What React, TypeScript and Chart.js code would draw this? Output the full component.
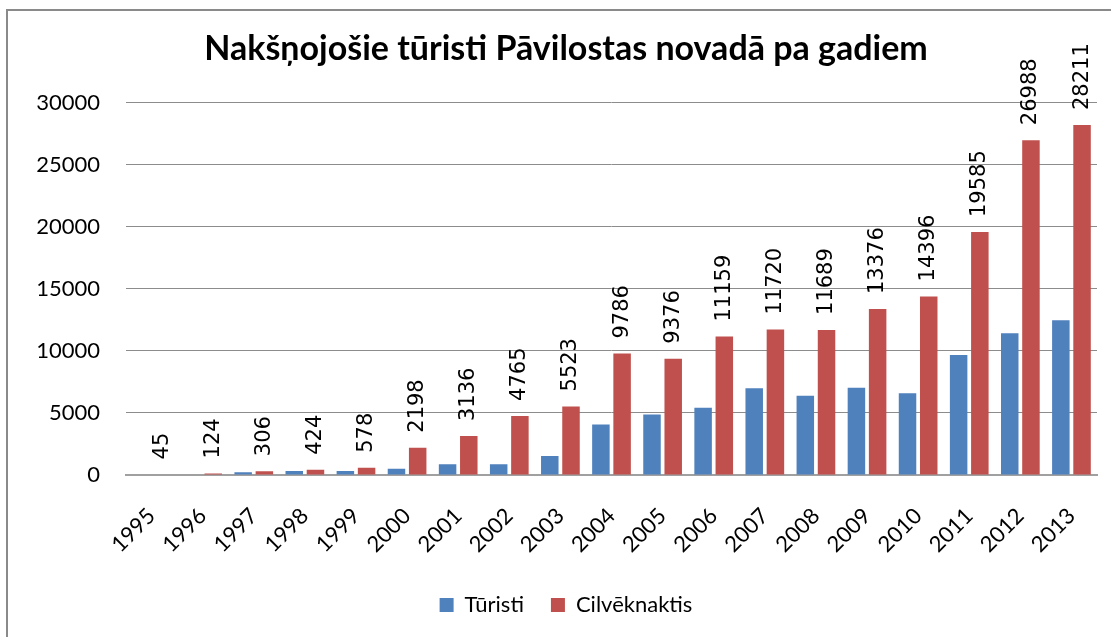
import React, { useEffect, useRef } from "react";
import { Chart, registerables } from "chart.js";

Chart.register(...registerables);

const chartTitle = "Nakšņojošie tūristi Pāvilostas novadā pa gadiem";
const years = [
  "1995", "1996", "1997", "1998", "1999", "2000", "2001", "2002", "2003", "2004",
  "2005", "2006", "2007", "2008", "2009", "2010", "2011", "2012", "2013",
];
const seriesNames = ["Tūristi", "Cilvēknaktis"];
const turisti = [
  0, 0, 220, 320, 320, 500, 870, 870, 1540, 4070,
  4880, 5420, 7000, 6380, 7040, 6590, 9680, 11430, 12480,
];
const cilveknaktis = [
  45, 124, 306, 424, 578, 2198, 3136, 4765, 5523, 9786,
  9376, 11159, 11720, 11689, 13376, 14396, 19585, 26988, 28211,
];
const yMin = 0;
const yMax = 30000;
const yStep = 5000;

const blue = "#4F81BD";
const red = "#C0504D";
const mainFont = "Lato";

const barLabelPlugin = {
  id: "barLabels",
  afterDatasetsDraw(chart: any) {
    const ctx = chart.ctx;
    const meta = chart.getDatasetMeta(1);
    const values = chart.data.datasets[1].data;
    ctx.save();
    ctx.font = '21px "DejaVu Sans"';
    ctx.fillStyle = "#000";
    ctx.textAlign = "left";
    ctx.textBaseline = "middle";
    meta.data.forEach((el: any, i: number) => {
      ctx.save();
      ctx.translate(el.x, el.y - 15);
      ctx.rotate(-Math.PI / 2);
      ctx.fillText(String(values[i]), 0, 0);
      ctx.restore();
    });
    ctx.restore();
  },
};

export default function App() {
  const canvasRef = useRef<HTMLCanvasElement | null>(null);

  useEffect(() => {
    if (!canvasRef.current) return;
    const chart = new Chart(canvasRef.current, {
      type: "bar",
      data: {
        labels: years,
        datasets: [
          {
            label: seriesNames[0],
            data: turisti,
            backgroundColor: blue,
            borderWidth: 0,
            categoryPercentage: 0.83,
            barPercentage: 0.825,
          },
          {
            label: seriesNames[1],
            data: cilveknaktis,
            backgroundColor: red,
            borderWidth: 0,
            categoryPercentage: 0.83,
            barPercentage: 0.825,
          },
        ],
      },
      options: {
        responsive: false,
        animation: false,
        layout: { padding: { left: 35, right: 14, top: 0, bottom: 11 } },
        plugins: {
          title: {
            display: true,
            text: chartTitle,
            color: "#000",
            font: { family: mainFont, size: 34, weight: "bold" },
            padding: { top: 29, bottom: 33 },
          },
          legend: {
            position: "bottom",
            labels: {
              boxWidth: 14,
              boxHeight: 14,
              padding: 27,
              color: "#000",
              font: { family: mainFont, size: 22 },
            },
          },
          tooltip: { enabled: false },
        },
        scales: {
          x: {
            grid: { display: false },
            border: { display: true, color: "#a0a0a0", width: 2 },
            ticks: {
              autoSkip: false,
              maxRotation: 45,
              minRotation: 45,
              padding: 20,
              color: "#000",
              font: { family: mainFont, size: 22 },
            },
            afterFit(scale: any) {
              scale.height = 92;
            },
          },
          y: {
            min: yMin,
            max: yMax,
            border: { display: false },
            grid: { color: "#8c8c8c", lineWidth: 1, drawTicks: false },
            ticks: {
              stepSize: yStep,
              padding: 26,
              color: "#000",
              font: { family: mainFont, size: 22 },
              callback: (value: any) => String(value),
            },
            afterFit(scale: any) {
              scale.width = 91;
            },
          },
        },
      },
      plugins: [barLabelPlugin],
    });
    return () => chart.destroy();
  }, []);

  return (
    <div
      style={{
        position: "fixed",
        left: 0,
        top: 0,
        width: 1111,
        height: 637,
        background: "#fff",
        overflow: "hidden",
      }}
    >
      <div
        style={{
          position: "absolute",
          left: 6,
          top: 9,
          width: 1200,
          height: 700,
          borderLeft: "2px solid #8a8a8a",
          borderTop: "2px solid #8a8a8a",
        }}
      />
      <canvas
        ref={canvasRef}
        width={1111}
        height={637}
        style={{ position: "absolute", left: 0, top: 0, display: "block" }}
      />
    </div>
  );
}
